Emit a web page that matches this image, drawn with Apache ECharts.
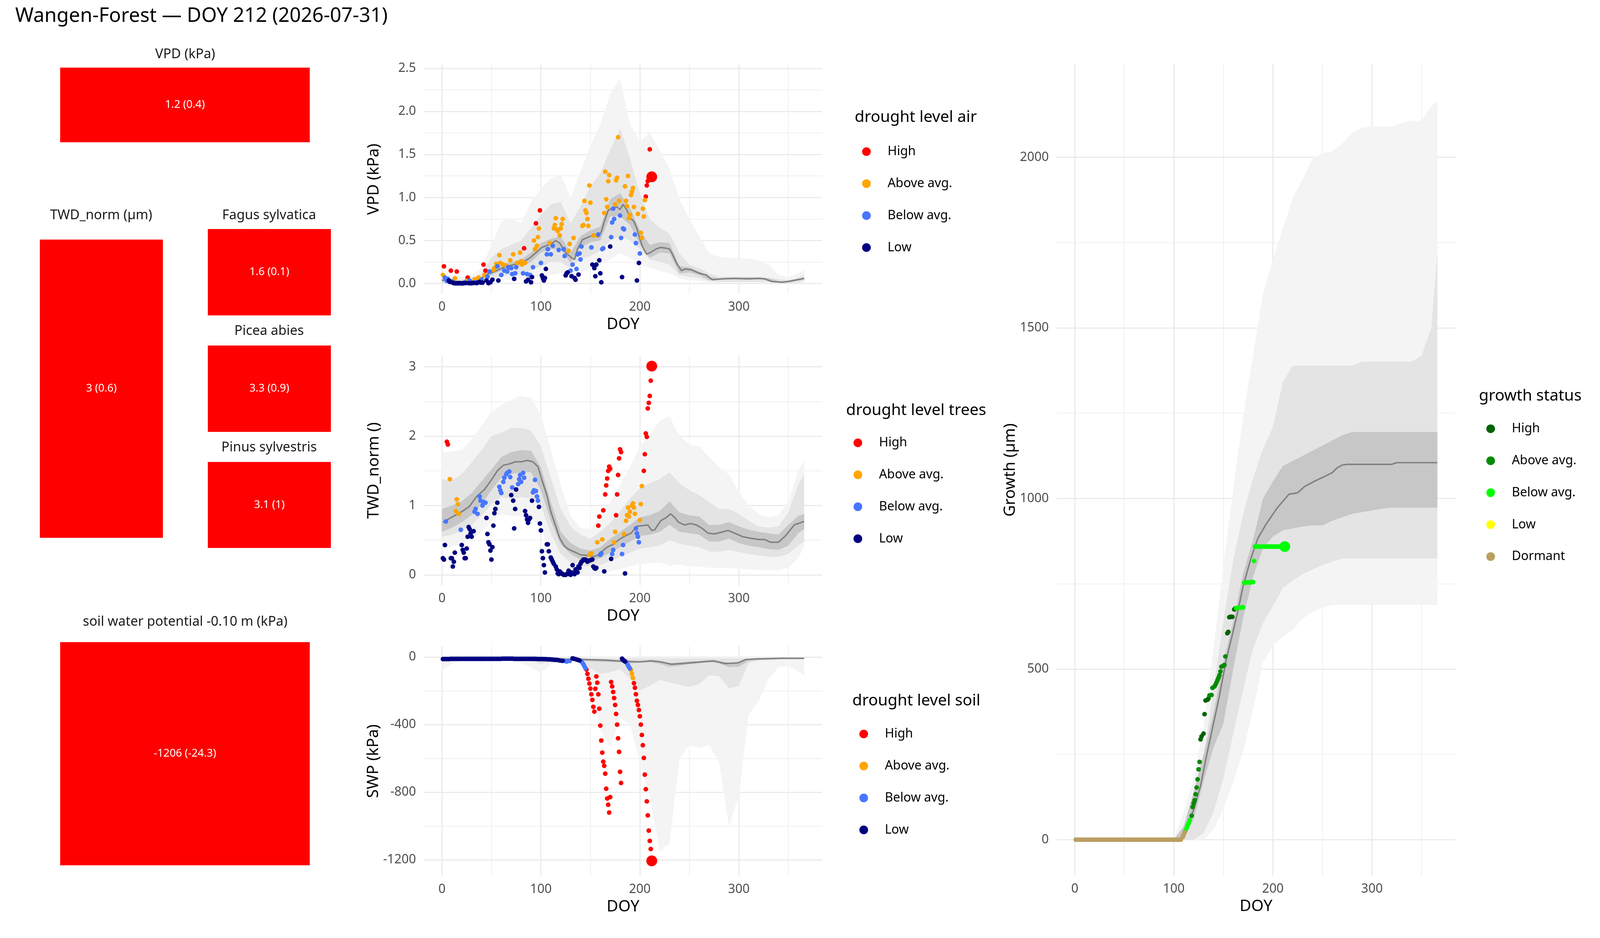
<!DOCTYPE html>
<html>
<head>
<meta charset="utf-8">
<title>Wangen-Forest DOY 212</title>
<script src="https://cdn.jsdelivr.net/npm/echarts@6/dist/echarts.min.js"></script>
<style>
  html, body { margin: 0; padding: 0; background: #fff; overflow: hidden; }
  #main { width: 4800px; height: 2400px; }
</style>
</head>
<body>
<div id="main"></div>
<script type="text/javascript">
// ---------- tiles (current day summary) ----------
var tileNames = ['VPD (kPa)', 'TWD_norm (µm)', 'Fagus sylvatica', 'Picea abies', 'Pinus sylvestris', 'soil water potential -0.10 m (kPa)'];
var tileMean = [1.2, 3, 1.6, 3.3, 3.1, -1206];
var tileSd = [0.4, 0.6, 0.1, 0.9, 1, -24.3];
var tileLevel = ['High', 'High', 'High', 'High', 'High', 'High'];

// ---------- axis ticks ----------
var doyTicks = [0, 100, 200, 300];
var doyMinor = [50, 150, 250, 350];
var vpdTicks = [0, 0.5, 1, 1.5, 2, 2.5];
var vpdMinor = [0.25, 0.75, 1.25, 1.75, 2.25];
var twdTicks = [0, 1, 2, 3];
var twdMinor = [0.5, 1.5, 2.5];
var swpTicks = [-1200, -800, -400, 0];
var swpMinor = [-1000, -600, -200];
var growthTicks = [0, 500, 1000, 1500, 2000];
var growthMinor = [250, 750, 1250, 1750];

// ---------- climatology bands (DOY grid) ----------
var doyBand = [0,10,20,30,40,50,60,70,80,90,100,110,120,130,140,150,160,170,180,190,200,210,220,230,240,250,260,270,280,290,300,310,320,330,340,350,360,366];

var vpdOuterLo = [0,0,0,0,0.01,0.03,0.04,0.05,0.06,0.07,0.08,0.10,0.12,0.10,0.12,0.18,0.22,0.28,0.35,0.30,0.22,0.18,0.15,0.12,0.06,0.04,0.03,0.01,0.01,0.01,0.01,0.01,0.01,0.01,0.005,0.005,0.01,0.01];
var vpdOuterHi = [0.12,0.10,0.08,0.10,0.18,0.45,0.72,0.76,0.70,0.95,1.10,1.22,1.27,1.00,1.30,1.60,1.85,2.20,2.38,1.85,1.65,1.75,1.55,1.33,0.98,0.75,0.55,0.35,0.31,0.30,0.30,0.29,0.27,0.22,0.10,0.075,0.12,0.16];
var vpdMidLo = [0.005,0.005,0.005,0.01,0.02,0.05,0.08,0.10,0.12,0.15,0.20,0.25,0.25,0.18,0.28,0.32,0.38,0.50,0.55,0.50,0.40,0.28,0.25,0.22,0.10,0.08,0.06,0.03,0.02,0.02,0.02,0.02,0.02,0.02,0.005,0.005,0.01,0.03];
var vpdMidHi = [0.07,0.06,0.05,0.06,0.12,0.30,0.40,0.45,0.50,0.65,0.80,0.92,0.95,0.70,0.90,1.13,1.28,1.55,1.80,1.45,1.05,0.75,0.65,0.58,0.35,0.22,0.18,0.12,0.08,0.08,0.08,0.08,0.08,0.07,0.05,0.04,0.07,0.10];
var vpdInLo = [0.02,0.02,0.01,0.02,0.04,0.10,0.15,0.17,0.20,0.25,0.36,0.40,0.40,0.24,0.42,0.48,0.50,0.78,0.78,0.68,0.45,0.30,0.36,0.35,0.12,0.13,0.10,0.04,0.045,0.05,0.05,0.045,0.05,0.04,0.01,0.015,0.035,0.05];
var vpdInHi = [0.05,0.04,0.03,0.04,0.08,0.16,0.22,0.25,0.28,0.36,0.47,0.52,0.55,0.36,0.55,0.62,0.66,0.98,1.05,0.88,0.62,0.45,0.48,0.47,0.20,0.19,0.14,0.08,0.06,0.07,0.07,0.07,0.07,0.06,0.03,0.03,0.05,0.07];

var twdOuterLo = [0.38,0.40,0.45,0.52,0.62,0.78,0.88,0.85,0.85,0.80,0.70,0.30,0.08,0.02,0,0,0.02,0.05,0.08,0.12,0.15,0.17,0.18,0.13,0.15,0.12,0.12,0.10,0.10,0.10,0.09,0.08,0.07,0.07,0.07,0.10,0.25,0.40];
var twdOuterHi = [1.76,1.78,1.80,1.95,2.15,2.35,2.45,2.52,2.58,2.55,2.30,1.80,1.30,0.85,0.68,0.66,0.85,1.05,1.30,1.55,1.85,2.02,2.22,2.28,2.00,1.88,1.85,1.70,1.55,1.45,1.20,1.00,0.88,0.83,0.86,1.05,1.50,1.64];
var twdMidLo = [0.55,0.58,0.64,0.72,0.85,1.02,1.12,1.10,1.12,1.10,1.00,0.60,0.30,0.18,0.12,0.12,0.14,0.20,0.26,0.32,0.38,0.40,0.42,0.50,0.45,0.42,0.40,0.34,0.33,0.36,0.33,0.30,0.28,0.26,0.26,0.30,0.42,0.48];
var twdMidHi = [1.38,1.36,1.45,1.62,1.80,2.00,2.05,2.12,2.12,2.08,1.85,1.40,0.95,0.70,0.58,0.52,0.62,0.75,0.92,1.10,1.25,1.32,1.38,1.48,1.32,1.22,1.15,1.05,0.95,0.95,0.88,0.78,0.70,0.68,0.70,0.90,1.30,1.45];
var twdInLo = [0.62,0.68,0.76,0.86,1.02,1.22,1.40,1.45,1.48,1.48,1.22,0.78,0.44,0.30,0.22,0.20,0.24,0.32,0.40,0.48,0.56,0.58,0.62,0.72,0.62,0.60,0.58,0.48,0.48,0.52,0.46,0.42,0.40,0.37,0.36,0.42,0.60,0.66];
var twdInHi = [0.95,1.00,1.06,1.18,1.35,1.52,1.70,1.77,1.80,1.79,1.55,1.05,0.62,0.46,0.38,0.35,0.40,0.52,0.62,0.72,0.83,0.86,0.92,1.06,0.90,0.86,0.84,0.72,0.72,0.76,0.70,0.65,0.62,0.60,0.58,0.72,0.85,0.88];

var swpOuterLo = [-80,-38,-20,-15,-14,-15,-18,-22,-35,-60,-95,-45,-25,-22,-30,-110,-430,-533,-360,-400,-620,-820,-1150,-1100,-600,-520,-540,-520,-620,-1000,-820,-340,-260,-130,-60,-55,-85,-107];
var swpOuterHi = [-2,-2,-2,-2,-2,-2,-2,-2,-2,-2,-2,-2,-2,-2,-2,-2,-2,-2,-2,-2,-2,-2,-2,-2,-2,-2,-2,-2,-2,-2,-2,-2,-2,-2,-2,-2,-2,-2];
var swpMidLo = [-20,-12,-10,-10,-10,-11,-12,-13,-18,-25,-40,-30,-20,-20,-30,-66,-100,-90,-72,-130,-198,-170,-136,-150,-165,-178,-160,-108,-112,-186,-172,-35,-22,-20,-15,-12,-12,-14];
var swpMidHi = [-4,-4,-4,-4,-4,-4,-4,-4,-4,-4,-4,-4,-4,-4,-4,-8,-8,-8,-8,-8,-8,-8,-8,-8,-8,-8,-8,-8,-8,-8,-8,-8,-4,-4,-4,-4,-4,-4];
var swpInLo = [-10,-10,-10,-11,-11,-12,-12,-13,-13,-14,-15,-16,-18,-20,-22,-25,-28,-30,-32,-38,-34,-30,-40,-58,-52,-42,-36,-30,-38,-60,-58,-22,-16,-14,-12,-11,-11,-11];
var swpInHi = [-5,-5,-5,-5,-6,-6,-6,-7,-7,-8,-8,-9,-10,-11,-12,-13,-15,-17,-20,-24,-24,-18,-22,-36,-32,-26,-24,-18,-24,-34,-30,-12,-9,-8,-7,-6,-6,-6];

var growthOuterLo = [0,0,0,0,0,0,0,0,0,0,0,0,0,0,30,90,170,260,380,520,568,595,615,648,668,680,688,688,688,688,688,688,688,688,688,688,688,688];
var growthOuterHi = [0,0,0,0,0,0,0,0,0,0,5,80,180,330,560,800,1030,1240,1420,1600,1700,1790,1880,1935,1995,2012,2018,2040,2070,2087,2090,2090,2090,2100,2107,2107,2150,2165];
var growthMidLo = [0,0,0,0,0,0,0,0,0,0,0,0,0,20,80,180,310,440,560,635,685,738,760,778,792,805,815,824,824,824,824,824,824,824,824,824,824,824];
var growthMidHi = [0,0,0,0,0,0,0,0,0,0,0,40,120,240,442,640,820,955,1060,1145,1210,1340,1389,1389,1389,1389,1389,1389,1389,1401,1401,1401,1401,1401,1401,1418,1500,1725];
var growthInLo = [0,0,0,0,0,0,0,0,0,0,0,5,60,170,270,340,500,650,770,855,888,907,912,918,921,921,935,945,955,960,965,970,973,973,973,973,973,973];
var growthInHi = [0,0,0,0,0,0,0,0,0,0,0,40,140,250,370,520,640,780,880,1000,1050,1095,1110,1125,1140,1155,1170,1185,1195,1195,1195,1195,1195,1195,1195,1195,1195,1195];

// ---------- medians [DOY, value] ----------
var vpdMedian = [[0,0.04],[10,0.03],[20,0.02],[30,0.03],[40,0.06],[44,0.10],[53,0.14],[65,0.20],[80,0.24],[88,0.29],[95,0.36],[101,0.42],[110,0.46],[115,0.50],[119,0.47],[125,0.36],[131,0.30],[134,0.28],[137,0.40],[142,0.51],[146,0.53],[152,0.56],[158,0.54],[161,0.60],[164,0.72],[168,0.85],[173,0.88],[177,0.89],[180,0.86],[183,0.92],[187,0.85],[190,0.77],[194,0.72],[197,0.64],[200,0.52],[203,0.42],[207,0.34],[212,0.37],[216,0.40],[221,0.42],[227,0.41],[230,0.40],[233,0.34],[237,0.24],[242,0.15],[246,0.17],[252,0.16],[260,0.12],[267,0.10],[273,0.045],[284,0.055],[296,0.06],[308,0.055],[320,0.06],[326,0.055],[333,0.025],[344,0.015],[350,0.025],[366,0.06]];
var twdMedian = [[1,0.76],[11,0.84],[20,0.91],[28,0.99],[35,1.13],[43,1.23],[50,1.37],[56,1.50],[62,1.58],[68,1.60],[74,1.63],[80,1.63],[86,1.65],[92,1.63],[97,1.56],[101,1.37],[106,1.15],[110,0.91],[115,0.70],[119,0.53],[124,0.41],[128,0.37],[134,0.33],[140,0.29],[146,0.28],[152,0.26],[157,0.28],[161,0.33],[167,0.40],[173,0.44],[179,0.51],[185,0.56],[191,0.60],[197,0.70],[203,0.71],[208,0.72],[212,0.64],[215,0.65],[221,0.78],[227,0.83],[231,0.88],[235,0.83],[239,0.76],[245,0.72],[251,0.74],[257,0.72],[263,0.67],[269,0.60],[275,0.59],[281,0.61],[289,0.64],[296,0.60],[304,0.55],[311,0.53],[320,0.51],[326,0.51],[332,0.47],[340,0.47],[347,0.56],[356,0.72],[366,0.77]];
var swpMedian = [[0,-8],[20,-8],[40,-9],[60,-9],[80,-10],[100,-11],[120,-13],[142,-15],[167,-19],[176,-23],[200,-29],[212,-23],[222,-30],[232,-43],[242,-39],[259,-31],[275,-23],[286,-39],[299,-35],[307,-15],[317,-12],[342,-8],[366,-8]];
var growthMedian = [[0,0],[106,0],[108,2],[113,35],[120,88],[127,158],[133,246],[140,340],[146,421],[153,529],[159,600],[165,674],[170,744],[178,826],[185,884],[193,924],[204,971],[216,1012],[225,1017],[232,1035],[243,1052],[254,1067],[260,1076],[265,1090],[270,1098],[275,1100],[320,1100],[325,1105],[366,1105]];

// ---------- this year's observations [DOY, value] ----------
var vpdHigh = [[2,0.20],[9,0.15],[15,0.14],[26,0.07],[42,0.22],[44,0.15],[83,0.41],[95,0.70],[99,0.85],[206,1.01],[207,1.14],[208,1.19],[210,1.56]];
var vpdAbove = [[1,0.10],[13,0.06],[25,0.03],[33,0.05],[37,0.07],[43,0.10],[52,0.16],[53,0.18],[55,0.23],[58,0.33],[59,0.24],[62,0.22],[65,0.21],[69,0.27],[72,0.34],[76,0.24],[79,0.36],[80,0.26],[81,0.22],[84,0.24],[93,0.50],[94,0.40],[96,0.44],[97,0.54],[98,0.64],[109,0.47],[113,0.64],[114,0.68],[115,0.76],[116,0.63],[117,0.61],[119,0.56],[120,0.64],[121,0.69],[122,0.75],[128,0.38],[129,0.46],[133,0.53],[142,0.67],[143,0.68],[144,0.96],[145,0.85],[146,0.82],[147,0.75],[148,0.67],[149,1.14],[150,0.94],[153,0.56],[157,0.56],[164,0.82],[165,1.30],[166,0.98],[167,0.89],[168,1.19],[169,1.26],[175,0.92],[176,1.20],[177,1.23],[178,1.70],[179,0.96],[185,1.13],[186,0.96],[187,0.90],[188,1.25],[189,0.76],[190,0.80],[191,1.03],[192,1.07],[193,1.11],[194,0.89],[198,0.81],[201,0.59],[202,0.53],[203,0.87],[204,0.78],[205,0.97]];
var vpdBelow = [[3,0.07],[4,0.05],[5,0.03],[6,0.055],[10,0.025],[23,0.015],[28,0.035],[34,0.015],[40,0.045],[46,0.08],[48,0.14],[56,0.20],[60,0.10],[63,0.15],[66,0.14],[67,0.19],[70,0.18],[71,0.11],[74,0.12],[75,0.19],[82,0.12],[86,0.11],[89,0.10],[92,0.19],[100,0.24],[106,0.34],[107,0.40],[110,0.34],[112,0.44],[118,0.39],[123,0.40],[124,0.32],[130,0.15],[132,0.22],[136,0.17],[137,0.34],[139,0.35],[140,0.28],[141,0.43],[151,0.42],[158,0.57],[162,0.40],[163,0.41],[171,0.54],[172,0.71],[173,0.87],[174,0.75],[180,0.79],[181,0.53],[183,0.64],[184,0.63],[195,0.57],[196,0.47],[200,0.35]];
var vpdLow = [[7,0.035],[8,0.02],[11,0.01],[12,0.005],[14,0.003],[16,0.003],[17,0.005],[18,0.004],[19,0.005],[20,0.002],[21,0.003],[22,0.005],[24,0.006],[27,0.005],[29,0.004],[30,0.005],[31,0.006],[32,0.008],[35,0.005],[36,0.01],[38,0.02],[39,0.012],[41,0.01],[45,0.035],[47,0.005],[49,0.015],[51,0.045],[57,0.035],[73,0.055],[85,0.025],[87,0.045],[90,0.015],[91,0.075],[101,0.095],[102,0.065],[103,0.035],[104,0.065],[105,0.17],[125,0.095],[126,0.12],[127,0.13],[131,0.085],[134,0.065],[135,0.045],[138,0.105],[152,0.22],[154,0.18],[155,0.085],[156,0.22],[159,0.27],[160,0.12],[161,0.015],[170,0.43],[182,0.075],[197,0.035],[199,0.24]];
var vpdNow = [212, 1.24];

var twdHigh = [[5,1.92],[6,1.88],[158,0.71],[159,0.84],[163,0.93],[165,1.16],[166,1.29],[167,1.39],[168,1.50],[169,1.56],[170,1.53],[176,0.86],[177,1.16],[178,1.44],[179,1.68],[180,1.81],[181,1.77],[204,1.50],[205,1.74],[206,2.04],[207,1.99],[208,2.40],[209,2.48],[210,2.58],[211,2.80]];
var twdAbove = [[8,1.38],[14,0.92],[15,1.09],[16,1.02],[17,0.88],[149,0.29],[151,0.31],[157,0.47],[162,0.51],[174,0.47],[175,0.62],[184,0.59],[186,0.78],[187,0.86],[188,0.97],[189,0.84],[190,0.91],[192,1.00],[193,1.03],[194,0.97],[195,0.88],[200,0.79],[201,1.02],[202,1.28]];
var twdBelow = [[4,0.77],[19,0.65],[33,0.91],[34,0.95],[36,0.88],[38,1.13],[39,1.07],[41,1.00],[42,1.05],[44,1.04],[58,1.27],[59,1.22],[60,1.18],[62,1.34],[63,1.40],[65,1.45],[66,1.47],[68,1.49],[69,1.41],[71,1.26],[77,1.31],[78,1.38],[79,1.44],[80,1.34],[82,1.47],[83,1.40],[92,1.19],[93,1.22],[94,1.37],[95,1.21],[96,1.13],[97,1.07],[160,0.29],[161,0.31],[172,0.30],[173,0.36],[182,0.30],[183,0.43],[196,0.67],[197,0.60],[198,0.55],[199,0.47]];
var twdLow = [[1,0.24],[2,0.22],[3,0.43],[9,0.24],[10,0.24],[11,0.12],[12,0.19],[13,0.32],[20,0.43],[21,0.36],[22,0.32],[23,0.24],[24,0.24],[25,0.38],[26,0.55],[27,0.69],[28,0.66],[29,0.60],[30,0.55],[32,0.63],[45,0.82],[46,0.59],[47,0.47],[48,0.44],[49,0.35],[50,0.22],[51,0.40],[52,0.71],[53,0.89],[54,0.95],[56,1.04],[70,1.15],[72,1.07],[73,0.67],[74,0.95],[75,1.23],[84,0.92],[85,0.86],[86,0.80],[87,0.75],[88,0.80],[89,0.82],[91,1.07],[98,0.98],[99,0.74],[100,0.64],[101,0.34],[102,0.24],[103,0.14],[104,0.035],[106,0.44],[107,0.44],[108,0.34],[110,0.25],[111,0.22],[112,0.19],[113,0.16],[115,0.12],[116,0.08],[117,0.02],[118,0.01],[119,0.05],[120,0.035],[121,0.02],[122,0.01],[123,0],[124,0],[125,0],[126,0.01],[127,0.02],[128,0.06],[129,0.01],[130,0],[131,0.035],[132,0.14],[133,0.03],[134,0.01],[135,0.08],[136,0.05],[137,0.035],[138,0.12],[139,0.10],[140,0.16],[141,0.19],[142,0.20],[143,0.22],[144,0.22],[145,0.22],[146,0.21],[147,0.19],[148,0.20],[150,0.21],[152,0.22],[153,0.12],[154,0.10],[155,0.09],[156,0.10],[164,0.05],[171,0.23],[185,0.02]];
var twdNow = [212, 3.01];

var swpHigh = [[146,-74],[147,-100],[148,-129],[149,-157],[150,-187],[151,-221],[152,-254],[153,-295],[154,-323],[155,-188],[156,-115],[157,-152],[158,-221],[159,-306],[160,-406],[161,-494],[162,-566],[163,-619],[164,-644],[165,-690],[166,-779],[167,-837],[168,-874],[169,-920],[170,-829],[171,-148],[172,-174],[173,-207],[174,-243],[175,-284],[176,-337],[177,-400],[178,-481],[179,-561],[180,-679],[181,-745],[194,-155],[195,-182],[196,-220],[197,-259],[198,-284],[199,-314],[200,-351],[201,-400],[202,-461],[203,-522],[204,-597],[205,-696],[206,-782],[207,-854],[208,-937],[209,-1027],[210,-1088],[211,-1136]];
var swpAbove = [[191,-77],[192,-100],[193,-124]];
var swpBelow = [[124,-24],[126,-27],[129,-24],[141,-27],[142,-35],[143,-44],[144,-55],[145,-66],[186,-30],[187,-39],[188,-49],[189,-60],[190,-69]];
var swpLow = [[1,-12],[3,-12],[5,-12],[7,-12],[9,-11],[11,-11],[13,-11],[15,-11],[17,-11],[19,-11],[21,-11],[23,-11],[25,-11],[27,-11],[29,-11],[31,-11],[33,-11],[35,-11],[37,-11],[39,-11],[41,-11],[43,-11],[45,-11],[47,-11],[49,-11],[51,-11],[53,-11],[55,-11],[57,-11],[59,-11],[61,-10],[63,-10],[65,-10],[67,-10],[69,-10],[71,-10],[73,-11],[75,-11],[77,-11],[79,-11],[81,-11],[83,-11],[85,-11],[87,-11],[89,-11],[91,-11],[93,-11],[95,-11],[97,-12],[99,-12],[101,-12],[103,-13],[105,-13],[107,-14],[109,-14],[111,-15],[113,-16],[115,-17],[117,-18],[119,-20],[121,-22],[122,-22],[132,-8],[133,-10],[135,-13],[137,-17],[139,-20],[182,-10],[183,-17],[184,-22],[185,-26]];
var swpNow = [212, -1206];

var growthHigh = [[127,294],[128,303],[130,311],[131,368],[132,408],[134,410],[135,414],[154,605],[155,609],[156,652],[157,653],[158,653],[159,653],[161,675],[162,678]];
var growthAbove = [[118,70],[119,96],[120,107],[121,116],[122,133],[123,153],[124,177],[125,206],[126,228],[136,423],[138,424],[139,445],[141,449],[142,454],[143,460],[144,467],[145,474],[146,482],[147,493],[148,507],[150,510],[151,512],[152,537]];
var growthBelow = [[112,28],[113,35],[114,42],[115,48],[116,57],[163,679],[164,679],[165,680],[166,680],[167,680],[168,680],[169,681],[170,681],[171,753],[172,753],[173,754],[174,754],[175,754],[176,754],[177,754],[178,754],[179,755],[180,755],[181,817],[182,859],[183,859],[184,859],[185,859],[186,859],[187,859],[188,859],[189,859],[190,859],[191,859],[192,859],[193,859],[194,859],[195,859],[196,859],[197,859],[198,859],[199,859],[200,859],[201,859],[202,859],[203,859],[204,859],[205,859],[206,859],[207,859],[208,859],[209,859],[210,859],[211,859]];
var growthLow = [];
var growthDormant = [[1,0],[3,0],[5,0],[7,0],[9,0],[11,0],[13,0],[15,0],[17,0],[19,0],[21,0],[23,0],[25,0],[27,0],[29,0],[31,0],[33,0],[35,0],[37,0],[39,0],[41,0],[43,0],[45,0],[47,0],[49,0],[51,0],[53,0],[55,0],[57,0],[59,0],[61,0],[63,0],[65,0],[67,0],[69,0],[71,0],[73,0],[75,0],[77,0],[79,0],[81,0],[83,0],[85,0],[87,0],[89,0],[91,0],[93,0],[95,0],[97,0],[99,0],[101,0],[103,0],[105,0],[107,0],[109,8],[110,15],[111,22]];
var growthNow = [212, 859];

// ---------- page size: layout is drawn for 4800x2400 and fitted to the real viewport ----------
var W = window.innerWidth || 4800, H = window.innerHeight || 2400;
var sx = W / 4800, sy = H / 2400, sf = Math.sqrt(sx * sy);
function X(v) { return Math.round(v * sx); }
function Y(v) { return Math.round(v * sy); }
function F(v) { return Math.round(v * sf * 10) / 10; }
var el = document.getElementById('main');
el.style.width = W + 'px';
el.style.height = H + 'px';

// ---------- styling ----------
var FONT = 'Noto Sans';
var GRID_COL = '#EBEBEB';
var levels = ['High', 'Above avg.', 'Below avg.', 'Low'];
var levelColor = {'High': '#FF0000', 'Above avg.': '#FFA500', 'Below avg.': '#4876FF', 'Low': '#000080'};
var growthLevels = ['High', 'Above avg.', 'Below avg.', 'Low', 'Dormant'];
var growthColor = {'High': '#006400', 'Above avg.': '#008B00', 'Below avg.': '#00FF00', 'Low': '#FFFF00', 'Dormant': '#BA9F62'};
var bandCols = ['#F4F4F4', '#E4E4E4', '#C7C7C7'];

var tileRects = [[181,173,749,191],[119,613,369,763],[623,586,369,221],[623,884,369,221],[623,1182,369,220],[181,1643,749,571]];
var tileTitleY = [139, 551, 551, 847, 1145, 1591];

var panels = [
  {key: 'air', rect: [1271,165,1195,587], ymin: -0.12, ymax: 2.545, ticks: vpdTicks, minor: vpdMinor,
   fmt: function (v) { return v.toFixed(1); }, name: 'VPD (kPa)', gap: 125,
   bands: [[vpdOuterLo, vpdOuterHi], [vpdMidLo, vpdMidHi], [vpdInLo, vpdInHi]], med: vpdMedian,
   pts: [vpdHigh, vpdAbove, vpdBelow, vpdLow], lv: levels, col: levelColor, now: vpdNow, nowLv: 'High'},
  {key: 'trees', rect: [1271,910,1195,588], ymin: -0.153, ymax: 3.161, ticks: twdTicks, minor: twdMinor,
   fmt: function (v) { return String(v); }, name: 'TWD_norm ()', gap: 125,
   bands: [[twdOuterLo, twdOuterHi], [twdMidLo, twdMidHi], [twdInLo, twdInHi]], med: twdMedian,
   pts: [twdHigh, twdAbove, twdBelow, twdLow], lv: levels, col: levelColor, now: twdNow, nowLv: 'High'},
  {key: 'soil', rect: [1271,1653,1195,589], ymin: -1297, ymax: 64.7, ticks: swpTicks, minor: swpMinor,
   fmt: function (v) { return String(v); }, name: 'SWP (kPa)', gap: 125,
   bands: [[swpOuterLo, swpOuterHi], [swpMidLo, swpMidHi], [swpInLo, swpInHi]], med: swpMedian,
   pts: [swpHigh, swpAbove, swpBelow, swpLow], lv: levels, col: levelColor, now: swpNow, nowLv: 'High'},
  {key: 'growth', rect: [3170,164,1196,2077], ymin: -106, ymax: 2273, ticks: growthTicks, minor: growthMinor,
   fmt: function (v) { return String(v); }, name: 'Growth (µm)', gap: 115,
   bands: [[growthOuterLo, growthOuterHi], [growthMidLo, growthMidHi], [growthInLo, growthInHi]], med: growthMedian,
   pts: [growthHigh, growthAbove, growthBelow, growthLow, growthDormant], lv: growthLevels, col: growthColor, now: growthNow, nowLv: 'Below avg.'}
];

var grids = [], xAxes = [], yAxes = [], series = [], titles = [], legends = [];

titles.push({text: 'Wangen-Forest — DOY 212 (2026-07-31)', left: X(46), top: Y(42), padding: 0,
  textVerticalAlign: 'middle', textStyle: {fontFamily: FONT, fontSize: F(55), fontWeight: 'normal', color: '#000'}});

// tiles: one grid each, a single full-size bar
tileNames.forEach(function (nm, i) {
  var r = tileRects[i];
  grids.push({left: X(r[0]), top: Y(r[1]), width: X(r[2]), height: Y(r[3])});
  xAxes.push({gridIndex: i, type: 'category', data: [nm], show: false});
  yAxes.push({gridIndex: i, type: 'value', min: 0, max: 1, show: false});
  series.push({type: 'bar', xAxisIndex: i, yAxisIndex: i, barWidth: '100%', silent: true,
    data: [1], itemStyle: {color: levelColor[tileLevel[i]]},
    label: {show: true, position: 'inside', color: '#fff', fontFamily: FONT, fontSize: F(30),
      formatter: function () { return tileMean[i] + ' (' + tileSd[i] + ')'; }}});
  titles.push({text: nm, left: X(r[0] + r[2] / 2), top: Y(tileTitleY[i]), padding: 0, textAlign: 'center',
    textVerticalAlign: 'middle', textStyle: {fontFamily: FONT, fontSize: F(37), fontWeight: 'normal', color: '#1a1a1a'}});
});

function bandSeries(lo, hi, color, ax) {
  var rows = doyBand.map(function (d, i) { return [d, lo[i], hi[i]]; });
  return {
    type: 'custom', xAxisIndex: ax, yAxisIndex: ax, silent: true, z: 1,
    data: rows, encode: {x: 0, y: [1, 2]},
    renderItem: function (params, api) {
      if (params.dataIndex !== 0) return null;
      var up = rows.map(function (r) { return api.coord([r[0], r[2]]); });
      var dn = rows.map(function (r) { return api.coord([r[0], r[1]]); }).reverse();
      return {type: 'polygon', shape: {points: up.concat(dn)}, style: {fill: color}};
    }
  };
}

panels.forEach(function (p) {
  var g = grids.length;
  var ax = xAxes.length;       // main axis index, minor = ax + 1
  grids.push({left: X(p.rect[0]), top: Y(p.rect[1]), width: X(p.rect[2]), height: Y(p.rect[3])});

  xAxes.push({gridIndex: g, type: 'value', min: -18.3, max: 384.3, position: 'bottom',
    axisLine: {show: false}, axisTick: {show: false, customValues: doyTicks},
    axisLabel: {customValues: doyTicks, fontFamily: FONT, fontSize: F(35), color: '#4D4D4D', margin: Y(18)},
    splitLine: {show: true, lineStyle: {color: GRID_COL, width: F(3.2)}},
    name: 'DOY', nameLocation: 'middle', nameGap: Y(58),
    nameTextStyle: {fontFamily: FONT, fontSize: F(44), color: '#000'}});
  xAxes.push({gridIndex: g, type: 'value', min: -18.3, max: 384.3, position: 'top',
    axisLine: {show: false}, axisTick: {show: false, customValues: doyMinor}, axisLabel: {show: false},
    splitLine: {show: true, lineStyle: {color: GRID_COL, width: F(1.6)}}});

  yAxes.push({gridIndex: g, type: 'value', min: p.ymin, max: p.ymax, position: 'left',
    axisLine: {show: false}, axisTick: {show: false, customValues: p.ticks},
    axisLabel: {customValues: p.ticks, formatter: p.fmt, fontFamily: FONT, fontSize: F(35), color: '#4D4D4D', margin: X(24)},
    splitLine: {show: true, lineStyle: {color: GRID_COL, width: F(3.2)}},
    name: p.name, nameLocation: 'middle', nameGap: X(p.gap),
    nameTextStyle: {fontFamily: FONT, fontSize: F(44), color: '#000'}});
  yAxes.push({gridIndex: g, type: 'value', min: p.ymin, max: p.ymax, position: 'right',
    axisLine: {show: false}, axisTick: {show: false, customValues: p.minor}, axisLabel: {show: false},
    splitLine: {show: true, lineStyle: {color: GRID_COL, width: F(1.6)}}});

  p.bands.forEach(function (b, j) { series.push(bandSeries(b[0], b[1], bandCols[j], ax)); });

  series.push({type: 'line', xAxisIndex: ax, yAxisIndex: ax, data: p.med, symbol: 'none', silent: true, z: 2,
    lineStyle: {color: '#808080', width: F(4)}});

  p.lv.forEach(function (lv, j) {
    series.push({type: 'scatter', name: p.key + '|' + lv, xAxisIndex: ax, yAxisIndex: ax,
      data: p.pts[j], symbolSize: F(13), silent: true, z: 3, itemStyle: {color: p.col[lv], opacity: 1}});
  });
  series.push({type: 'scatter', xAxisIndex: ax, yAxisIndex: ax, data: [p.now], symbolSize: F(30), silent: true, z: 4,
    itemStyle: {color: p.col[p.nowLv], opacity: 1}});
});

// legends
var legendPos = [
  {key: 'air', title: 'drought level air', tx: 2564, ty: 300, left: 2586, top: 372, lv: levels},
  {key: 'trees', title: 'drought level trees', tx: 2538, ty: 1050, left: 2560, top: 1117, lv: levels},
  {key: 'soil', title: 'drought level soil', tx: 2557, ty: 1793, left: 2578, top: 1862, lv: levels},
  {key: 'growth', title: 'growth status', tx: 4437, ty: 1013, left: 4459, top: 1081, lv: growthLevels}
];
var dot = F(24);
legendPos.forEach(function (L) {
  titles.push({text: L.title, left: X(L.tx), top: Y(L.ty), padding: 0, textVerticalAlign: 'middle',
    textStyle: {fontFamily: FONT, fontSize: F(44), fontWeight: 'normal', color: '#000'}});
  legends.push({orient: 'vertical', left: X(L.left), top: Y(L.top), padding: 0, itemWidth: dot, itemHeight: dot,
    itemGap: Y(72) - dot, icon: 'circle', selectedMode: false,
    data: L.lv.map(function (lv) { return L.key + '|' + lv; }),
    formatter: function (name) { return name.split('|')[1]; },
    textStyle: {fontFamily: FONT, fontSize: F(35), color: '#000', lineHeight: dot, padding: [0, 0, 0, X(45)]}});
});

var chart = echarts.init(el);
chart.setOption({
  animation: false,
  backgroundColor: '#fff',
  textStyle: {fontFamily: FONT},
  title: titles,
  legend: legends,
  grid: grids,
  xAxis: xAxes,
  yAxis: yAxes,
  series: series
});
</script>
</body>
</html>
